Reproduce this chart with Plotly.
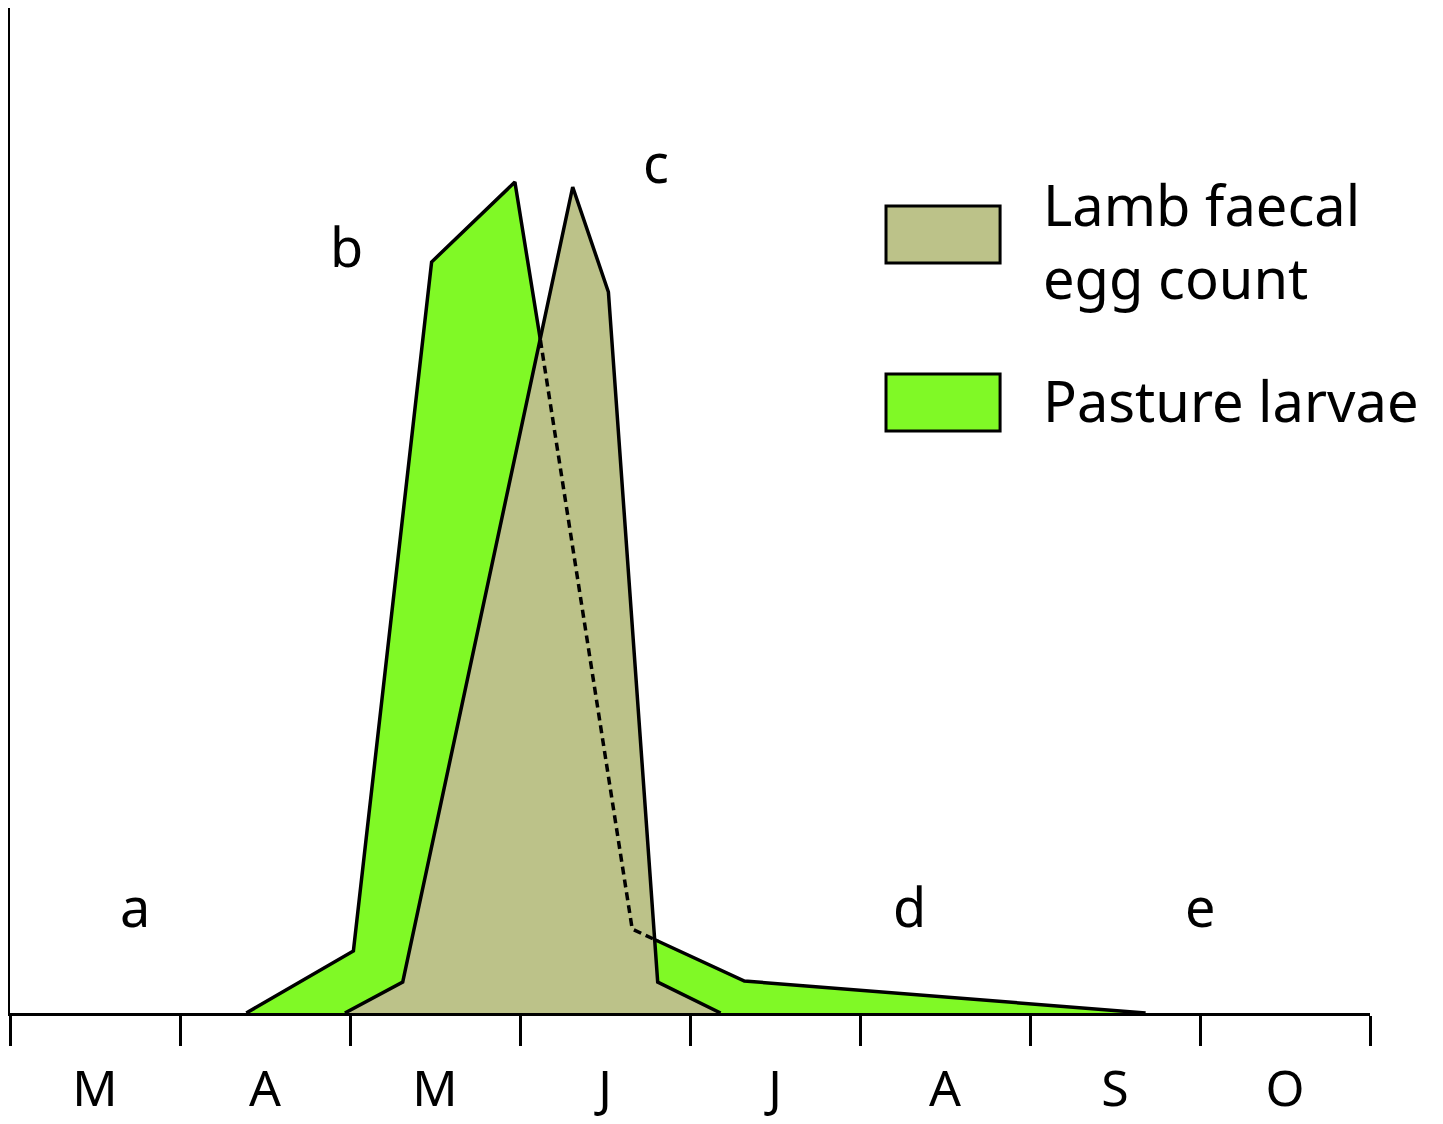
import plotly.graph_objects as go

# ---- data (x in months from start of March, y in arbitrary units) ----
months = ["M", "A", "M", "J", "J", "A", "S", "O"]
month_pos = [0.5, 1.5, 2.5, 3.5, 4.5, 5.5, 6.5, 7.5]
month_bounds = [0, 1, 2, 3, 4, 5, 6, 7, 8]

larvae_x = [1.39, 2.02, 2.48, 2.97, 3.12, 3.66, 3.81, 4.32, 6.68]
larvae_y = [0.0, 6.2, 75.1, 83.1, 67.3, 8.4, 7.2, 3.2, 0.0]
hidden_idx = [4, 5, 6]  # part of the larvae outline hidden behind the egg-count area

egg_x = [1.97, 2.31, 3.31, 3.52, 3.81, 4.18]
egg_y = [0.0, 3.1, 82.6, 72.1, 3.1, 0.0]

phase_labels = ["a", "b", "c", "d", "e"]
phase_x = [0.735, 1.98, 3.80, 5.29, 7.00]
phase_y = [10.7, 76.7, 85.1, 10.7, 10.7]

GREEN = "#80F926"
OLIVE = "#BCC289"
FONT = "Noto Sans"

fig = go.Figure()
fig.add_trace(go.Scatter(x=larvae_x, y=larvae_y, mode="lines", fill="toself",
                         fillcolor=GREEN, line=dict(color="black", width=3.5),
                         name="Pasture larvae", showlegend=False, hoverinfo="skip"))
fig.add_trace(go.Scatter(x=egg_x, y=egg_y, mode="lines", fill="toself",
                         fillcolor=OLIVE, line=dict(color="black", width=3.5),
                         name="Lamb faecal egg count", showlegend=False, hoverinfo="skip"))
fig.add_trace(go.Scatter(x=[larvae_x[i] for i in hidden_idx],
                         y=[larvae_y[i] for i in hidden_idx],
                         mode="lines", line=dict(color="black", width=3.5, dash="8px,5px"),
                         showlegend=False, hoverinfo="skip"))

for t, x, y in zip(phase_labels, phase_x, phase_y):
    fig.add_annotation(x=x, y=y, text=t, showarrow=False,
                       font=dict(family=FONT, size=54, color="black"),
                       xanchor="center", yanchor="middle")

# legend (drawn manually to match the large boxes)
legend_items = [("Lamb faecal<br>egg count", OLIVE, 75.0, 80.7, 77.3),
                ("Pasture larvae", GREEN, 58.2, 63.9, 61.3)]
for text, col, y0, y1, ty in legend_items:
    fig.add_shape(type="rect", x0=5.153, x1=5.824, y0=y0, y1=y1,
                  xref="x", yref="y", fillcolor=col,
                  line=dict(color="black", width=3))
    fig.add_annotation(x=6.065, y=ty, text=text, showarrow=False, align="left",
                       xanchor="left", yanchor="middle",
                       font=dict(family=FONT, size=56, color="black"))

fig.update_layout(
    width=1443, height=1124,
    margin=dict(l=2, r=81, t=0, b=119, autoexpand=False),
    paper_bgcolor="white", plot_bgcolor="white",
    showlegend=False,
    xaxis=dict(range=[0, 8], showgrid=False, zeroline=False, automargin=False,
               showline=True, linecolor="black", linewidth=3,
               tickvals=month_pos, ticktext=months,
               ticks="outside", ticklen=30, tickcolor="rgba(0,0,0,0)",
               tickfont=dict(family=FONT, size=50, color="black"),
               minor=dict(tickvals=month_bounds, ticks="outside", ticklen=30,
                          tickwidth=3, tickcolor="black"),
               fixedrange=True),
    yaxis=dict(range=[0, 100.5], showgrid=False, zeroline=False, automargin=False,
               showline=True, linecolor="black", linewidth=3,
               showticklabels=False, ticks="", fixedrange=True),
)

fig.write_html("out.html")
